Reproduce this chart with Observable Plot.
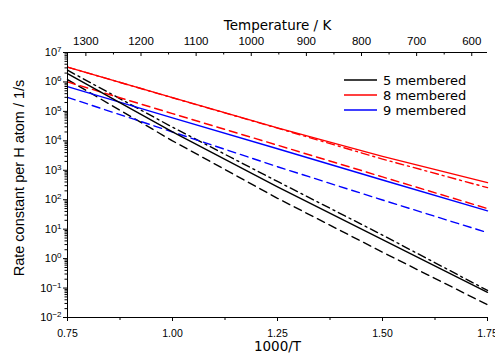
<!DOCTYPE html>
<html><head><meta charset="utf-8">
<script src="https://cdn.jsdelivr.net/npm/d3@7"></script>
<script src="https://cdn.jsdelivr.net/npm/@observablehq/plot@0.6"></script>
<style>
body{margin:0;background:#fff}
#wrap{position:relative;width:495px;height:356px;overflow:hidden;background:#fff}
#legend{position:absolute;left:338px;top:70px}
</style></head><body><div id="wrap"></div>
<script>
// 1000/T sample positions
const invT = [0.75, 1.0, 1.25, 1.5, 1.75];

// legend
const seriesNames = ["5 membered", "8 membered", "9 membered"];
const seriesColors = ["#000000", "#ff0000", "#0000ff"];

// rate constants per H atom (1/s) read at invT
const k5Solid   = [1.9e6, 2.0e4, 275, 4.4, 0.072];
const k5Dashed  = [1.2e6, 1.0e4, 112, 1.66, 0.027];
const k5DashDot = [2.5e6, 2.9e4, 417, 6.3, 0.083];
const k8Solid   = [3.2e6, 2.95e5, 2.75e4, 2950, 380];
const k8Dashed  = [1.0e6, 8.4e4, 7.1e3, 596, 50];
const k8DashDot = [3.2e6, 2.9e5, 2.7e4, 2400, 257];
const k9Solid   = [6.9e5, 6.0e4, 5.4e3, 468, 42];
const k9Dashed  = [3.0e5, 2.0e4, 1.32e3, 98, 7.6];

// ticks
const xMajor = [0.75, 1.0, 1.25, 1.5, 1.75];
const xMinor = [0.875, 1.125, 1.375, 1.625];
const tempMajor = [1300, 1200, 1100, 1000, 900, 800, 700, 600];
const tempMinor = [1250, 1150, 1050, 950, 850, 750, 650];
const yExponents = [-2, -1, 0, 1, 2, 3, 4, 5, 6, 7];

const SOLID = null, DASH = "8,5", DASHDOT = "8,4,2,4";
const curves = [
  {id: "5d", color: seriesColors[0], dash: DASH, k: k5Dashed},
  {id: "5dd", color: seriesColors[0], dash: DASHDOT, k: k5DashDot},
  {id: "9d", color: seriesColors[2], dash: DASH, k: k9Dashed},
  {id: "8d", color: seriesColors[1], dash: DASH, k: k8Dashed},
  {id: "8dd", color: seriesColors[1], dash: DASHDOT, k: k8DashDot},
  {id: "9s", color: seriesColors[2], dash: SOLID, k: k9Solid},
  {id: "8s", color: seriesColors[1], dash: SOLID, k: k8Solid},
  {id: "5s", color: seriesColors[0], dash: SOLID, k: k5Solid}
];

const W = 495, H = 356, mL = 67, mR = 8, mT = 52, mB = 39;
const frameH = H - mT - mB;

// top axis: temperature laid out linearly across the 1000/T range
const Tleft = 1000 / xMajor[0], Tright = 1000 / xMajor[xMajor.length - 1];
const tPos = T => xMajor[0] + (Tleft - T) / (Tleft - Tright) * (xMajor[xMajor.length - 1] - xMajor[0]);
const tOf = p => Tleft - (p - xMajor[0]) / (xMajor[xMajor.length - 1] - xMajor[0]) * (Tleft - Tright);

const yMajor = yExponents.map(e => Math.pow(10, e));
const yMinor = [];
for (const e of yExponents.slice(0, -1)) for (let m = 2; m <= 9; m++) yMinor.push(m * Math.pow(10, e));

const lineMarks = curves.map(c => Plot.line(invT.map((x, i) => ({x, k: c.k[i]})), {
  x: "x", y: "k", stroke: c.color, strokeWidth: 1.4,
  strokeDasharray: c.dash == null ? undefined : c.dash
}));

const chart = Plot.plot({
  width: W, height: H,
  marginLeft: mL, marginRight: mR, marginTop: mT, marginBottom: mB,
  style: {background: "#fff", color: "#000"},
  x: {domain: [xMajor[0], xMajor[xMajor.length - 1]]},
  y: {type: "log", domain: [yMajor[0], yMajor[yMajor.length - 1]]},
  marks: [
    ...lineMarks,
    Plot.ruleX([xMajor[0]], {stroke: "#000", strokeWidth: 1}),
    Plot.ruleY([yMajor[0]], {stroke: "#000", strokeWidth: 1}),
    Plot.ruleY([yMajor[yMajor.length - 1]], {stroke: "#000", strokeWidth: 1}),
    Plot.axisY({ticks: yMinor, tickSize: 2.5, tickFormat: () => "", label: null}),
    Plot.axisY({ticks: yMajor, tickSize: 4, tickPadding: 2, label: null,
      tickFormat: d => "10^" + Math.round(Math.log10(d)),
      fontSize: 11, fontFamily: "Liberation Sans"}),
    Plot.axisX({ticks: xMinor, tickSize: 3, tickFormat: () => "", label: null}),
    Plot.axisX({ticks: xMajor, tickSize: 4, tickPadding: 8, label: null,
      tickFormat: d3.format(".2f"), fontSize: 10.5, fontFamily: "Liberation Sans"}),
    Plot.axisX({anchor: "top", ticks: tempMajor.map(tPos), tickSize: 0, tickPadding: 8, label: null,
      tickFormat: p => String(Math.round(tOf(p))), fontSize: 11.5, fontFamily: "Liberation Sans"}),
    Plot.tickX(tempMajor.map(tPos), {x: d => d, insetBottom: frameH - 4, stroke: "#000"}),
    Plot.tickX(tempMinor.map(tPos), {x: d => d, insetBottom: frameH - 2.5, stroke: "#000"}),
    Plot.text(["Temperature / K"], {text: d => d, frameAnchor: "top", dy: -32,
      fontSize: 13.5, fontFamily: "DejaVu Sans"}),
    Plot.text(["1000/T"], {text: d => d, frameAnchor: "bottom", dy: 33,
      fontSize: 13.5, fontFamily: "DejaVu Sans"}),
    Plot.text(["Rate constant per H atom / 1/s"], {text: d => d, frameAnchor: "left", dx: -48, dy: -7,
      rotate: -90, textAnchor: "middle", fontSize: 14.5, fontFamily: "Liberation Sans"})
  ]
});

// superscript exponents on y tick labels
d3.select(chart).selectAll("text").each(function () {
  const t = this.textContent;
  const m = /^10\^(-?\d+)$/.exec(t);
  if (!m) return;
  const sel = d3.select(this);
  sel.text("10");
  sel.append("tspan").attr("dy", "-0.5em").attr("font-size", "8px")
    .text(m[1].replace("-", "\u2212"));
});

const wrap = document.getElementById("wrap");
wrap.appendChild(chart);

// legend
const leg = d3.create("svg").attr("id", "legend").attr("width", 150).attr("height", 55)
  .attr("font-family", "DejaVu Sans").attr("font-size", 13);
seriesNames.forEach((name, i) => {
  const y = 10 + i * 15;
  leg.append("line").attr("x1", 6).attr("x2", 39).attr("y1", y).attr("y2", y)
    .attr("stroke", seriesColors[i]).attr("stroke-width", 1.5);
  leg.append("text").attr("x", 45).attr("y", y).attr("dy", "0.36em").attr("fill", "#000").text(name);
});
wrap.appendChild(leg.node());
</script>
</body></html>
